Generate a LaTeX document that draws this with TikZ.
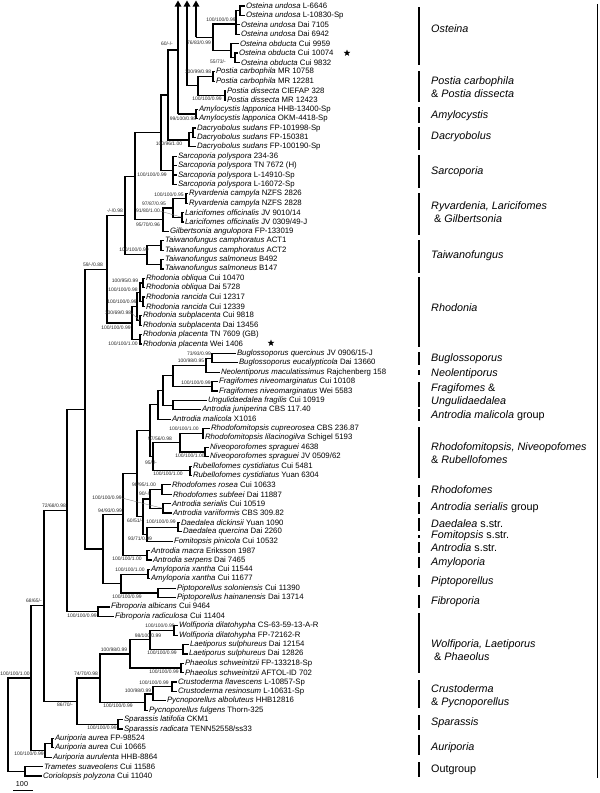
\documentclass[tikz,border=0pt]{standalone}
\usepackage{fontspec}
\setmainfont{Liberation Sans}
\usetikzlibrary{arrows.meta,shapes.geometric}

\begin{document}
\begin{tikzpicture}[x=1pt, y=-1pt,
    branch/.style={line width=1.2pt},
    cut/.style={line width=1.2pt, -{Triangle[width=6.5pt,length=6pt]}},
    taxon/.style={anchor=west, inner sep=0.8pt, font=\fontsize{7.8}{9}\selectfont},
    sup/.style={inner sep=0pt, font=\fontsize{5}{6}\selectfont, text=black!85},
    leader/.style={black!55, line width=0.3pt},
    clade/.style={anchor=west, align=left, inner sep=0pt, font=\fontsize{10.8}{13}\selectfont\itshape},
    bar/.style={line width=1.4pt},
    tipstar/.style={star, star points=5, star point ratio=2.4, fill, inner sep=0pt, minimum size=7pt}
]
\useasboundingbox (0,0) rectangle (600,793);

% taxa, one row every 9.39
\foreach \tx/\sp/\cod [count=\i] in {
  246/Osteina undosa/L-6646, 246/Osteina undosa/L-10830-Sp,
  241/Osteina undosa/Dai 7105, 241/Osteina undosa/Dai 6942,
  240/Osteina obducta/Cui 9959, 239/Osteina obducta/Cui 10074,
  241/Osteina obducta/Cui 9832,
  216/Postia carbophila/MR 10758, 216/Postia carbophila/MR 12281,
  227/Postia dissecta/CIEFAP 328, 227/Postia dissecta/MR 12423,
  199/Amylocystis lapponica/HHB-13400-Sp, 199/Amylocystis lapponica/OKM-4418-Sp,
  197/Dacryobolus sudans/FP-101998-Sp, 197/Dacryobolus sudans/FP-150381,
  197/Dacryobolus sudans/FP-100190-Sp,
  178/Sarcoporia polyspora/234-36, 178/Sarcoporia polyspora/TN 7672 (H),
  178/Sarcoporia polyspora/L-14910-Sp, 178/Sarcoporia polyspora/L-16072-Sp,
  189/Ryvardenia campyla/NZFS 2826, 189/Ryvardenia campyla/NZFS 2828,
  185/Laricifomes officinalis/{JV 9010/14}, 185/Laricifomes officinalis/{JV 0309/49-J},
  170/Gilbertsonia angulopora/FP-133019,
  165/Taiwanofungus camphoratus/ACT1, 165/Taiwanofungus camphoratus/ACT2,
  165/Taiwanofungus salmoneus/B492, 165/Taiwanofungus salmoneus/B147,
  146/Rhodonia obliqua/Cui 10470, 146/Rhodonia obliqua/Dai 5728,
  146/Rhodonia rancida/Cui 12317, 146/Rhodonia rancida/Cui 12339,
  143/Rhodonia subplacenta/Cui 9818, 143/Rhodonia subplacenta/Dai 13456,
  143/Rhodonia placenta/TN 7609 (GB), 143/Rhodonia placenta/Wei 1406,
  237/Buglossoporus quercinus/{JV 0906/15-J}, 239/Buglossoporus eucalypticola/Dai 13660,
  221/Neolentiporus maculatissimus/Rajchenberg 158,
  219/Fragifomes niveomarginatus/Cui 10108, 219/Fragifomes niveomarginatus/Wei 5583,
  208/Ungulidaedalea fragilis/Cui 10919, 202/Antrodia juniperina/CBS 117.40,
  172/Antrodia malicola/X1016,
  211/Rhodofomitopsis cupreorosea/CBS 236.87, 205/Rhodofomitopsis lilacinogilva/Schigel 5193,
  210/Niveoporofomes spraguei/4638, 210/Niveoporofomes spraguei/{JV 0509/62},
  193/Rubellofomes cystidiatus/Cui 5481, 193/Rubellofomes cystidiatus/Yuan 6304,
  172/Rhodofomes rosea/Cui 10633, 173/Rhodofomes subfeei/Dai 11887,
  172/Antrodia serialis/Cui 10519, 173/Antrodia variiformis/CBS 309.82,
  181/Daedalea dickinsii/Yuan 1090, 183/Daedalea quercina/Dai 2260,
  174/Fomitopsis pinicola/Cui 10532,
  151/Antrodia macra/Eriksson 1987, 153/Antrodia serpens/Dai 7465,
  151/Amyloporia xantha/Cui 11544, 151/Amyloporia xantha/Cui 11677,
  177/Piptoporellus soloniensis/Cui 11390, 177/Piptoporellus hainanensis/Dai 13714,
  111/Fibroporia albicans/Cui 9464, 115/Fibroporia radiculosa/Cui 11404,
  179/Wolfiporia dilatohypha/CS-63-59-13-A-R, 179/Wolfiporia dilatohypha/FP-72162-R,
  190/Laetiporus sulphureus/Dai 12154, 189/Laetiporus sulphureus/Dai 12826,
  185/Phaeolus schweinitzii/FP-133218-Sp, 185/Phaeolus schweinitzii/AFTOL-ID 702,
  178/Crustoderma flavescens/L-10857-Sp, 178/Crustoderma resinosum/L-10631-Sp,
  167/Pycnoporellus alboluteus/HHB12816, 149/Pycnoporellus fulgens/Thorn-325,
  124/Sparassis latifolia/CKM1, 124/Sparassis radicata/{TENN52558/ss33},
  55/Auriporia aurea/FP-98524, 55/Auriporia aurea/Cui 10665,
  53/Auriporia aurulenta/HHB-8864,
  44/Trametes suaveolens/Cui 11586, 43/Coriolopsis polyzona/Cui 11040%
}{
  \node[taxon] (t\i) at ({\tx-1},{6+(\i-1)*9.39}) {\textit{\sp} \cod};
}

% internal nodes
\coordinate (u12) at (240,10.7);   \coordinate (uA) at (236,24);
\coordinate (o67) at (235,57.6);   \coordinate (oA) at (231,50.6);
\coordinate (oO) at (213,37.3);
\coordinate (pc) at (213,76.4);    \coordinate (pd) at (225,95.2);
\coordinate (pP) at (198,85.8);
\coordinate (aA) at (196,114);
\coordinate (dA) at (193,132.8);   \coordinate (dB) at (189,139.9);
\coordinate (n10) at (168,95);
\coordinate (sS) at (173,170.3);   \coordinate (n9) at (161,132.7);
\coordinate (rR) at (186,198.5);   \coordinate (rL) at (182,217.3);
\coordinate (rRL) at (173,207.9);  \coordinate (rG) at (163,219.7);
\coordinate (n8) at (135,176.2);
\coordinate (tC) at (161,245.5);   \coordinate (tS) at (161,264.2);
\coordinate (tT) at (147,254.8);   \coordinate (n7) at (125,215.5);
\coordinate (rO) at (143,283);     \coordinate (rRa) at (143,301.8);
\coordinate (rOR) at (140,292.4);  \coordinate (rS) at (140,320.6);
\coordinate (rORS) at (137,306.5); \coordinate (rP) at (140,339.4);
\coordinate (rhod) at (132,323);   \coordinate (n5) at (107,269.2);
\coordinate (bg) at (212,358.1);   \coordinate (bn) at (206,365.2);
\coordinate (fr) at (212,386.3);   \coordinate (bnf) at (173,375.7);
\coordinate (ua) at (173,405.1);   \coordinate (xa) at (163,390.4);
\coordinate (x1) at (158,404.8);
\coordinate (rhf) at (203,433.2);  \coordinate (nv) at (205,452);
\coordinate (rn) at (180,442.6);   \coordinate (rb) at (190,470.8);
\coordinate (x2) at (153,456.7);   \coordinate (n14) at (150,430.8);
\coordinate (rf) at (162,489.6);   \coordinate (asr) at (163,508.4);
\coordinate (rfas) at (150,499);   \coordinate (dd) at (178,527.2);
\coordinate (dfp) at (147,534.2);  \coordinate (n15) at (143,516.6);
\coordinate (n13) at (137,473.7);  \coordinate (ast) at (147,555.3);
\coordinate (n11) at (123,514.5);
\coordinate (am) at (148,574.1);   \coordinate (pi) at (158,592.9);
\coordinate (n12) at (121,583.5);  \coordinate (n6) at (103,549);
\coordinate (n4) at (85,409.1);
\coordinate (fb) at (98,611.7);    \coordinate (n3) at (67,510.4);
\coordinate (wf) at (174,630.5);   \coordinate (la) at (183,649.2);
\coordinate (wl) at (150,639.8);   \coordinate (ph) at (181,668);
\coordinate (wlp) at (130,653.9);
\coordinate (cr) at (172,686.8);   \coordinate (cra) at (153,693.9);
\coordinate (crp) at (145,702.1);  \coordinate (z) at (100,678);
\coordinate (sp) at (118,724.4);   \coordinate (y) at (77,701.2);
\coordinate (n2) at (44,605.8);
\coordinate (au0) at (52,743.1);   \coordinate (au) at (45,750.2);
\coordinate (n1) at (31,678);
\coordinate (og) at (25,771.3);    \coordinate (root) at (8,724.6);

% branches cut at the top
\coordinate (cC) at (196,37.3);    \coordinate (cCtop) at (196,0.5);
\coordinate (cB) at (187,85.8);    \coordinate (cBtop) at (187,0.5);
\coordinate (aB) at (178,114);     \coordinate (aTop) at (178,0.5);
\coordinate (aJ) at (178,50);

% branches to tips
\foreach \p/\c in {u12/1, u12/2, uA/3, uA/4, oA/5, o67/6, o67/7,
    pc/8, pc/9, pd/10, pd/11, aA/12, aA/13, dA/14, dA/15, dB/16,
    sS/17, sS/18, sS/19, sS/20, rR/21, rR/22, rL/23, rL/24, rG/25,
    tC/26, tC/27, tS/28, tS/29, rO/30, rO/31, rRa/32, rRa/33,
    rS/34, rS/35, rP/36, rP/37, bg/38, bg/39, bn/40, fr/41, fr/42,
    ua/43, ua/44, x1/45, rhf/46, rhf/47, nv/48, nv/49, rb/50, rb/51,
    rf/52, rf/53, asr/54, asr/55, dd/56, dd/57, dfp/58, ast/59, ast/60,
    am/61, am/62, pi/63, pi/64, fb/65, fb/66, wf/67, wf/68, la/69, la/70,
    ph/71, ph/72, cr/73, cr/74, cra/75, crp/76, sp/77, sp/78,
    au0/79, au0/80, au/81, og/82, og/83}
  \draw[branch] (\p) |- (t\c.west);

% branches between nodes
\foreach \p/\c in {uA/u12, oA/o67, oO/uA, oO/oA, cC/oO, pP/pc, pP/pd, cB/pP,
    aB/aA, dB/dA, n10/aJ, n10/dB, n9/n10, n9/sS, rRL/rR, rRL/rL, rG/rRL,
    n8/n9, n8/rG, tT/tC, tT/tS, n7/n8, n7/tT, rOR/rO, rOR/rRa, rORS/rOR,
    rORS/rS, rhod/rORS, rhod/rP, n5/n7, n5/rhod, bn/bg, bnf/bn, bnf/fr,
    xa/bnf, xa/ua, x1/xa, rn/rhf, rn/nv, x2/rn, x2/rb, n14/x1, n14/x2,
    rfas/rf, rfas/asr, dfp/dd, n15/rfas, n15/dfp, n13/n14, n13/n15,
    n11/n13, n11/ast, n12/am, n12/pi, n6/n11, n6/n12, n4/n5, n4/n6,
    n3/n4, n3/fb, wl/wf, wl/la, wlp/wl, wlp/ph, cra/cr, crp/cra,
    z/wlp, z/crp, y/z, y/sp, n2/n3, n2/y, au/au0, n1/n2, n1/au,
    root/n1, root/og}
  \draw[branch] (\p) |- (\c);

\draw[cut] (cC) -- (cCtop);
\draw[cut] (cB) -- (cBtop);
\draw[cut] (aB) -- (aTop);

% support values
\foreach \lx/\ly/\txt [count=\k] in {
  221/20/{100/100/0.99}, 199/43/{76/83/0.99}, 218/62/{55/73/-},
  167/44/{60/-/-}, 198/72/{100/99/0.98}, 207/99/{100/100/0.99},
  183/119/{99/100/0.98}, 169/144/{100/96/1.00}, 152/175/{100/100/0.99},
  169/195/{100/100/0.95}, 154/204/{97/87/0.95}, 148/225/{95/70/0.96},
  115/211/{-/-/0.98}, 134/250/{100/100/0.99}, 93/265/{59/-/0.88},
  125/281/{100/95/0.99}, 123/290/{100/100/0.98}, 122/302/{100/100/0.99},
  116/328/{100/100/0.99}, 123/344/{100/100/1.00},
  199/354/{73/93/0.99}, 191/361/{100/98/0.95}, 196/383/{100/100/0.99},
  184/429/{100/100/1.00}, 160/439/{97/56/0.98}, 190/456/{100/100/1.00},
  151/463/{95/-/-}, 168/474/{100/100/1.00}, 144/485/{98/95/1.00},
  145/494/{90/-/-}, 161/522/{100/100/0.99}, 135/521/{60/51/-},
  140/539/{93/71/0.99}, 110/511/{94/93/0.99}, 127/559/{100/100/1.00},
  130/570/{100/100/1.00}, 127/597/{100/100/0.99}, 54/506/{72/68/0.98},
  82/616/{100/100/0.99}, 34/601/{68/65/-},
  160/626/{100/100/0.99}, 148/636/{98/100/0.99}, 162/653/{100/100/0.99},
  114/650/{100/98/0.99}, 164/672/{100/100/0.99}, 86/674/{74/70/0.98},
  154/683/{100/100/0.99}, 138/691/{100/98/0.99}, 118/706/{100/100/0.99},
  65/705/{86/70/-}, 102/728/{100/100/0.99}, 29/754/{100/100/0.99},
  15/674/{100/100/1.00}%
}{
  \node[sup] (s\k) at (\lx,\ly) {\txt};
}
\node[sup] (sRL) at (148,211) {91/80/1.00};
\node[sup] (sRS) at (118,313) {100/69/0.98};
\node[sup] (sAS) at (107,498) {100/100/0.99};
\draw[leader] (sRL.east) -- (rL);
\draw[leader] (sRS.east) -- (rS);
\draw[leader] (sAS.east) -- (asr);

% type specimens
\node[tipstar] (st1) at (347,53) {};
\node[tipstar] (st2) at (271,343) {};

% clade bars
\foreach \ya/\yb in {7/65, 71/102, 107/123, 127/150, 155/188, 193/235,
    240/273, 277/347, 352/365, 370/375, 382/407, 409/421, 427/478,
    485/497, 502/514, 518/531, 535/538, 542/553, 557/568, 575/587,
    595/608, 613/673, 680/708, 715/730, 735/755, 762/777}
  \draw[bar] (419,\ya) -- (419,\yb);
\draw[line width=1.8pt] (597.5,4) -- (597.5,778);

% clade names
\node[clade] (c1) at (431,29) {Osteina};
\node[clade] (c2) at (431,87.5) {Postia carbophila\\{\upshape\&} Postia dissecta};
\node[clade] (c3) at (431,116) {Amylocystis};
\node[clade] (c4) at (431,137) {Dacryobolus};
\node[clade] (c5) at (431,172) {Sarcoporia};
\node[clade] (c6) at (431,212) {Ryvardenia, Laricifomes\\\hspace*{3pt}{\upshape\&} Gilbertsonia};
\node[clade] (c7) at (431,256) {Taiwanofungus};
\node[clade] (c8) at (431,308) {Rhodonia};
\node[clade] (c9) at (431,359) {Buglossoporus};
\node[clade] (c10) at (431,374) {Neolentiporus};
\node[clade] (c11) at (431,395.5) {Fragifomes {\upshape\&}\\Ungulidaedalea};
\node[clade] (c12) at (431,416) {Antrodia malicola {\upshape group}};
\node[clade] (c13) at (431,453.5) {Rhodofomitopsis, Niveopofomes\\{\upshape\&} Rubellofomes};
\node[clade] (c14) at (431,490) {Rhodofomes};
\node[clade] (c15) at (431,508) {Antrodia serialis {\upshape group}};
\node[clade] (c16) at (431,523.5) {Daedalea {\upshape s.str.}};
\node[clade] (c17) at (431,536) {Fomitopsis {\upshape s.str.}};
\node[clade] (c18) at (431,548) {Antrodia {\upshape s.str.}};
\node[clade] (c19) at (431,563) {Amyloporia};
\node[clade] (c20) at (431,582) {Piptoporellus};
\node[clade] (c21) at (431,602) {Fibroporia};
\node[clade] (c22) at (431,650) {Wolfiporia, Laetiporus\\\hspace*{3pt}{\upshape\&} Phaeolus};
\node[clade] (c23) at (431,696.5) {Crustoderma\\{\upshape\&} Pycnoporellus};
\node[clade] (c24) at (431,723) {Sparassis};
\node[clade] (c25) at (431,748) {Auriporia};
\node[clade] (c26) at (431,770) {\upshape Outgroup};

% scale bar
\coordinate (sbL) at (13,790.5);
\coordinate (sbR) at (33,790.5);
\draw[line width=1pt] (sbL) -- (sbR);
\node[inner sep=0pt, font=\fontsize{7.2}{8}\selectfont] (sbt) at (22,784) {100};
\end{tikzpicture}
\end{document}
